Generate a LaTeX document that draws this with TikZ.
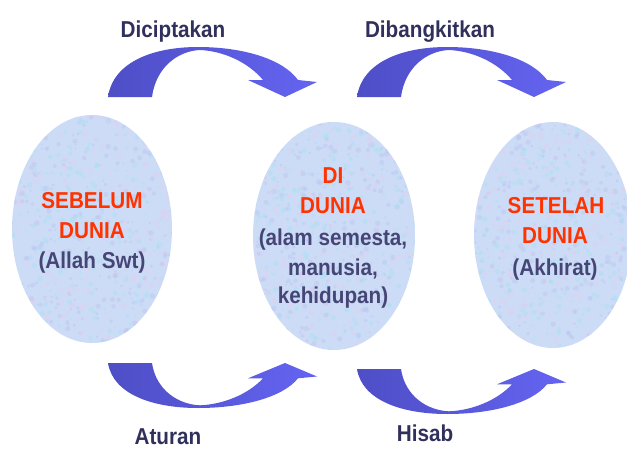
\documentclass[tikz,border=0pt]{standalone}
\usepackage{fontspec}
\setmainfont{Liberation Sans}[FakeStretch=0.9]
\usetikzlibrary{shapes.geometric}
\definecolor{lbl}{RGB}{48,48,92}
\definecolor{subt}{RGB}{70,70,118}
\definecolor{redt}{RGB}{255,51,0}
\definecolor{arrL}{RGB}{78,78,198}
\definecolor{arrR}{RGB}{100,100,242}
\definecolor{ellbase}{RGB}{204,220,246}
\definecolor{dotA}{RGB}{228,206,238}
\definecolor{dotB}{RGB}{168,226,244}
\definecolor{dotC}{RGB}{190,196,240}
\newcommand{\crvarrow}{(0,0) .. controls (5,35) and (45,50) .. (90,50) .. controls (135,50) and (175,38) .. (190,17) -- (209,15) -- (177,0) -- (140,17) -- (155,17) .. controls (140,35) and (115,46) .. (92,47) .. controls (70,46) and (48,30) .. (44,0) -- cycle}
\tikzset{
  txt/.style={font=\fontsize{23}{28}\selectfont\bfseries, anchor=base, inner sep=0pt},
  lab/.style={txt, text=lbl},
  red/.style={txt, text=redt},
  subl/.style={txt, text=subt},
  oval/.style={ellipse, inner sep=0pt, fill=ellbase,
    path picture={
      \foreach \k in {1,...,300}{
        \fill[dotA, opacity=.45, shift={(path picture bounding box.center)}] (rand*85,rand*118) circle[radius=1+1.8*rnd];
        \fill[dotB, opacity=.45, shift={(path picture bounding box.center)}] (rand*85,rand*118) circle[radius=1+1.8*rnd];
        \fill[dotC, opacity=.45, shift={(path picture bounding box.center)}] (rand*85,rand*118) circle[radius=1+1.8*rnd];
      }
    }},
  arrowfill/.style={left color=arrL, right color=arrR}
}
\begin{document}
\begin{tikzpicture}[x=1pt,y=-1pt]
\pgfmathsetseed{7}
\useasboundingbox (0,0) rectangle (627,450);
% ellipses
\node[oval, minimum width=160, minimum height=228] (e1) at (92,229) {};
\node[oval, minimum width=162, minimum height=228] (e2) at (334,236) {};
\node[oval, minimum width=158, minimum height=226] (e3) at (553,235) {};
% arrows top
\begin{scope}[shift={(108,97)}, yscale=-1]
  \shade[arrowfill] \crvarrow;
\end{scope}
\begin{scope}[shift={(357,97)}, yscale=-1]
  \shade[arrowfill] \crvarrow;
\end{scope}
% arrows bottom
\begin{scope}[shift={(108,363)}, yscale=0.9]
  \shade[arrowfill] \crvarrow;
\end{scope}
\begin{scope}[shift={(357,369)}, yscale=0.9]
  \shade[arrowfill] \crvarrow;
\end{scope}
% labels
\node[lab] (l1) at (173,37) {Diciptakan};
\node[lab] (l2) at (430,37) {Dibangkitkan};
\node[lab] (l3) at (168,444) {Aturan};
\node[lab] (l4) at (425,441) {Hisab};
% ellipse 1 text
\node[red] (a1) at (92,208) {SEBELUM};
\node[red] (a2) at (92,238) {DUNIA};
\node[subl] (a3) at (92,268) {(Allah Swt)};
% ellipse 2 text
\node[red] (b1) at (333,183) {DI};
\node[red] (b2) at (333,213) {DUNIA};
\node[subl] (b3) at (333,245) {(alam semesta,};
\node[subl] (b4) at (333,275) {manusia,};
\node[subl] (b5) at (333,303) {kehidupan)};
% ellipse 3 text
\node[red] (c1) at (556,213) {SETELAH};
\node[red] (c2) at (555,243) {DUNIA};
\node[subl] (c3) at (555,275) {(Akhirat)};
\end{tikzpicture}
\end{document}
